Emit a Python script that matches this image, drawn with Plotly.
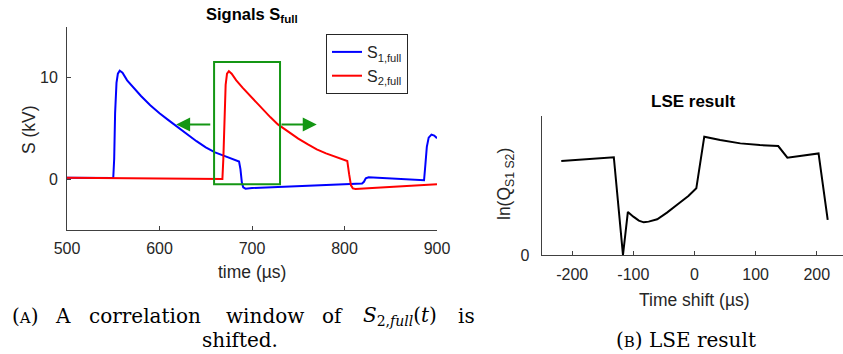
import plotly.graph_objects as go

# ---------------- data ----------------
# Left panel: signals S1,full and S2,full (kV) vs time (µs)
t_s1 = [500, 550, 551, 552, 553.5, 555, 557, 560, 565, 570, 575, 580, 590, 600, 610, 620,
        630, 640, 650, 660, 670, 680, 686, 687.5, 689, 690.5, 693, 700, 750, 800, 819,
        821, 823, 826, 850, 870, 886, 887.5, 889, 891, 894, 897, 900]
s1 = [0.15, 0.12, 2.0, 6.5, 9.5, 10.4, 10.7, 10.5, 9.75, 9.2, 8.7, 8.2, 7.3, 6.5, 5.8, 5.1,
      4.4, 3.75, 3.15, 2.65, 2.3, 1.95, 1.75, 1.0, -0.3, -0.8, -0.93, -0.86, -0.68, -0.5, -0.42,
      -0.25, 0.1, 0.2, 0.1, 0.0, -0.1, 1.5, 3.2, 4.1, 4.4, 4.3, 4.05]

t_s2 = [500, 560, 620, 668, 669, 670, 671.5, 673, 675, 678, 683, 690, 700, 710, 720, 728,
        740, 750, 760, 770, 780, 790, 803, 805, 807, 809, 812, 830, 860, 900]
s2 = [0.15, 0.1, 0.05, 0.02, 2.0, 6.0, 9.3, 10.4, 10.65, 10.4, 9.75, 9.0, 8.0, 7.0, 6.1, 5.4,
      4.6, 4.0, 3.45, 2.95, 2.55, 2.2, 1.8, 0.5, -0.6, -0.9, -0.95, -0.85, -0.7, -0.5]

series_names = ["S<sub>1,full</sub>", "S<sub>2,full</sub>"]

# correlation window and shift arrows (time µs, S kV)
window_t = [659, 730.3]
window_s = [-0.5, 11.55]
arrow_left_t = [656.5, 618]
arrow_right_t = [730.3, 770]
arrow_s = 5.4

# Right panel: LSE result
shift = [-218, -132, -117, -109, -100, -91, -83, -75, -61, -45, -29, -10, 3, 16, 42, 75,
         107, 137, 152, 203, 218]
lnq = [0.676, 0.703, 0.0, 0.31, 0.276, 0.247, 0.235, 0.24, 0.257, 0.305, 0.36, 0.425, 0.48,
       0.851, 0.827, 0.803, 0.791, 0.784, 0.70, 0.731, 0.252]

left_xticks = [500, 600, 700, 800, 900]
left_yticks = [0, 10]
right_xticks = [-200, -100, 0, 100, 200]
right_xtick_labels = ["-200", "-100", "0", "100", "200"]
right_yticks = [0]

# ---------------- figure ----------------
W, H = 843, 354
SANS = "Liberation Sans, Arial, Helvetica, sans-serif"
SERIF = "DejaVu Serif, serif"
AX = "#404040"
TXT = "#262626"
GREEN = "rgb(20,150,20)"

fig = go.Figure()
fig.add_trace(go.Scatter(x=t_s1, y=s1, mode="lines", name=series_names[0],
                         line=dict(color="rgb(0,0,255)", width=2), xaxis="x", yaxis="y"))
fig.add_trace(go.Scatter(x=t_s2, y=s2, mode="lines", name=series_names[1],
                         line=dict(color="rgb(255,0,0)", width=2), xaxis="x", yaxis="y"))
fig.add_trace(go.Scatter(x=shift, y=lnq, mode="lines", showlegend=False,
                         line=dict(color="black", width=2), xaxis="x2", yaxis="y2"))

def px_x(p):
    return p / W

def px_y(p):
    return 1 - p / H

axis_common = dict(showline=True, linecolor=AX, linewidth=1, ticks="inside", ticklen=4,
                   tickcolor=AX, showgrid=False, zeroline=False, mirror=False,
                   automargin=False,
                   tickfont=dict(family=SANS, size=16, color=TXT))

fig.update_layout(
    width=W, height=H, margin=dict(l=0, r=0, t=0, b=0),
    paper_bgcolor="white", plot_bgcolor="white",
    font=dict(family=SANS, color=TXT),
    xaxis=dict(domain=[px_x(67), px_x(437)], range=[500, 900], tickvals=left_xticks,
               ticklabelstandoff=4, anchor="y", **axis_common),
    yaxis=dict(domain=[px_y(230), px_y(27)], range=[-5, 15], tickvals=left_yticks,
               ticklabelstandoff=5, anchor="x", **axis_common),
    xaxis2=dict(domain=[px_x(541.7), 1.0], range=[-250, 243], tickvals=right_xticks,
                ticktext=right_xtick_labels, ticklabelstandoff=5,
                anchor="y2", **axis_common),
    yaxis2=dict(domain=[px_y(255), px_y(116)], range=[0, 1], tickvals=right_yticks,
                ticklabelstandoff=8, anchor="x2", **axis_common),
    legend=dict(x=px_x(326), y=px_y(34), xanchor="left", yanchor="top",
                bordercolor=TXT, borderwidth=1, bgcolor="white",
                font=dict(family=SANS, size=16, color=TXT), tracegroupgap=0),
    showlegend=True,
)

def label(txt, cx, cy, font, ang=0):
    fig.add_annotation(xref="paper", yref="paper", x=px_x(cx), y=px_y(cy),
                       xanchor="center", yanchor="middle", text=txt, textangle=ang,
                       showarrow=False, font=font)

# axis titles
lab_font = dict(family=SANS, size=17.5, color=TXT)
label("time (µs)", 252, 272, lab_font)
label("S (kV)", 29, 130, lab_font, -90)
label("Time shift (µs)", 694, 300, lab_font)
label("ln(Q<sub>S1 S2</sub>)", 505, 184, lab_font, -90)

# correlation window
fig.add_shape(type="rect", xref="x", yref="y", x0=window_t[0], x1=window_t[1],
              y0=window_s[0], y1=window_s[1], line=dict(color=GREEN, width=2))
# arrows
for (a0, a1) in (arrow_left_t, arrow_right_t):
    fig.add_annotation(xref="x", yref="y", axref="x", ayref="y", x=a1, y=arrow_s,
                       ax=a0, ay=arrow_s, text="", showarrow=True, arrowhead=2,
                       arrowsize=1.4, arrowwidth=2, arrowcolor=GREEN)

# titles
label("<b>Signals S<sub>full</sub></b>", 252, 15, dict(family=SANS, size=16.5, color="black"))
label("<b>LSE result</b>", 693, 101, dict(family=SANS, size=17, color="black"))

# captions (justified first line of caption A)
cap_font = dict(family=SERIF, size=20, color="black")
words = [("(<span style='font-size:15px'>A</span>)", 25),
         ("A", 63),
         ("correlation", 145),
         ("window", 265),
         ("of", 332),
         ("<i>S</i><sub>2,<i>full</i></sub>(<i>t</i>)", 400),
         ("is", 466)]
for txt, cx in words:
    label(txt, cx, 316, cap_font)
label("shifted.", 240, 340, cap_font)
label("(<span style='font-size:15px'>B</span>) LSE result", 686, 340, cap_font)

fig.write_html("out.html", config={"displayModeBar": False},
               post_script="document.body.style.margin='0';document.body.style.overflow='hidden';")
